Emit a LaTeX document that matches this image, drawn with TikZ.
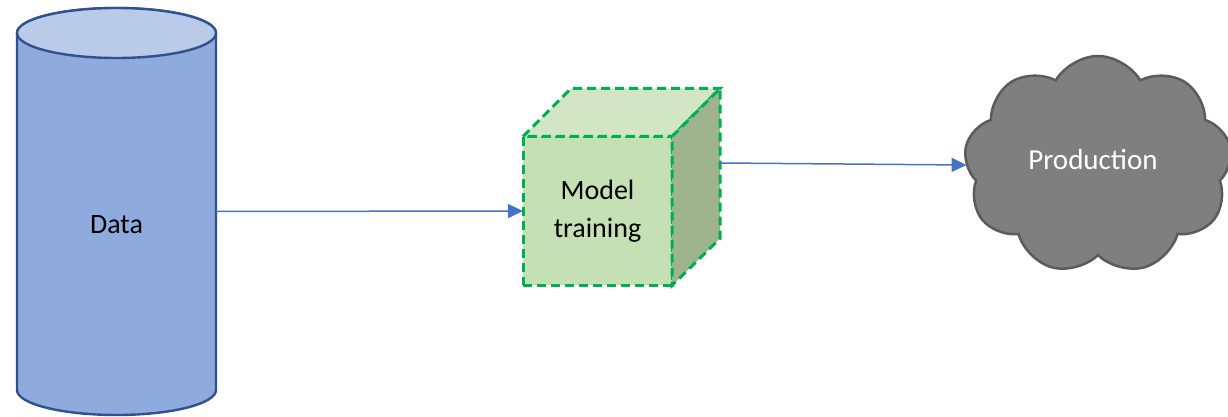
\documentclass[tikz,border=0pt]{standalone}
\usepackage{fontspec}
\setmainfont{Carlito}
\usetikzlibrary{shapes.symbols, arrows.meta, positioning, backgrounds}

\definecolor{dataline}{HTML}{2F528F}
\definecolor{databody}{HTML}{8FAADC}
\definecolor{datatop}{HTML}{BACBEA}
\definecolor{cubeline}{HTML}{00B050}
\definecolor{cubefront}{HTML}{C5E0B4}
\definecolor{cubetop}{HTML}{D2E6C6}
\definecolor{cubeside}{HTML}{9DB48F}
\definecolor{cloudline}{HTML}{5B5B5B}
\definecolor{cloudfill}{HTML}{7F7F7F}
\definecolor{linkblue}{HTML}{4472C4}

\begin{document}
\begin{tikzpicture}[x=0.5pt, y=-0.5pt,
        every node/.style={font=\fontsize{14}{17.5}\selectfont},
        dataedge/.style={draw=dataline, line width=1.2pt},
        cubeedge/.style={draw=cubeline, line width=1.5pt, dash pattern=on 4.5pt off 2.5pt},
        link/.style={draw=linkblue, line width=0.75pt, -{Triangle[length=7.5pt, width=7pt]}}]
        \useasboundingbox (0,0) rectangle (1228,417);

        \node[minimum width=99.5pt, minimum height=203.5pt, outer sep=0pt, inner sep=0pt,
            label={[yshift=-6.5pt]center:Data}] (data) at (116.5,211.5) {};
        \begin{scope}[on background layer]
            \filldraw[dataedge, fill=databody] ([yshift=-12.5pt]data.north west) -- ([yshift=12.5pt]data.south west)
                arc[start angle=180, end angle=360, x radius=49.75pt, y radius=12.5pt]
                -- ([yshift=-12.5pt]data.north east)
                arc[start angle=0, end angle=180, x radius=49.75pt, y radius=12.5pt] -- cycle;
            \filldraw[dataedge, fill=datatop] ([yshift=-12.5pt]data.north) ellipse[x radius=49.75pt, y radius=12.5pt];
        \end{scope}

        \node[cubeedge, fill=cubefront, minimum size=74.5pt, outer sep=0pt, align=center,
            font=\fontsize{14}{19}\selectfont] (model) at (597.5,211) {Model\\training};
        \filldraw[cubeedge, fill=cubetop] (model.north west) -- ++(48,-48) -- ++(149,0) -- (model.north east) -- cycle;
        \filldraw[cubeedge, fill=cubeside] (model.north east) -- ++(48,-48) -- ++(0,150) -- (model.south east) -- cycle;
        \coordinate (modelout) at ([shift={(48,-48)}]model.east);

        \node[cloud, cloud puffs=9, cloud puff arc=120, aspect=1.2, draw=cloudline, line width=1.25pt,
            fill=cloudfill, minimum width=134pt, minimum height=109pt, inner sep=0pt, outer sep=0pt,
            label={[text=white, font=\fontsize{14.5}{17.5}\selectfont, xshift=-2.5pt, yshift=2.5pt]center:Production}] (prod) at (1098,165) {};

        \draw[link] (data.east) -- (model.west);
        \draw[link] (modelout) -- (prod.west);
    \end{tikzpicture}
\end{document}
